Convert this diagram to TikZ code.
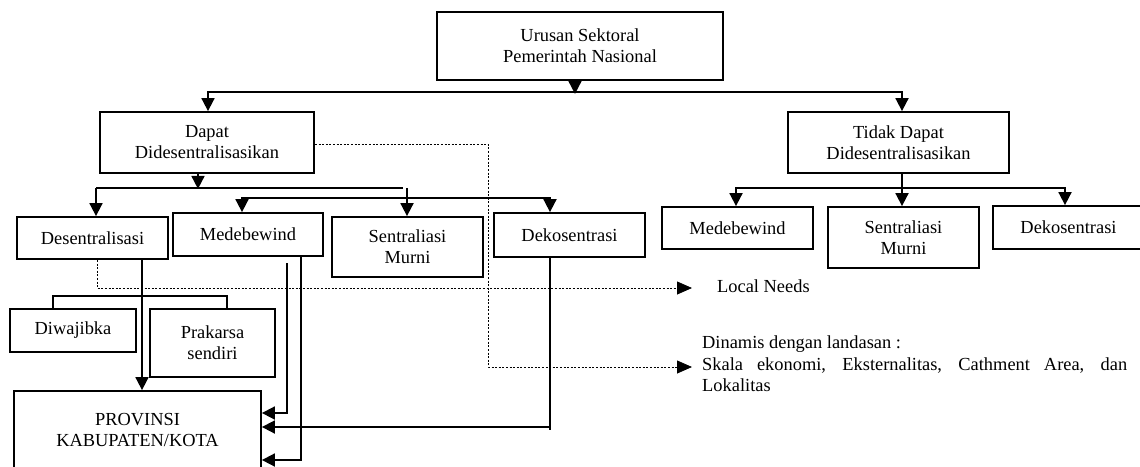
\documentclass[tikz,border=0pt]{standalone}
\usepackage{fontspec}
\setmainfont{Liberation Serif}
\usetikzlibrary{arrows.meta}
\tikzset{
  txt/.style={font=\fontsize{18.4}{21}\selectfont},
  box/.style={draw, line width=1.8pt, inner sep=0pt, align=center, txt},
  ln/.style={line width=1.8pt, line join=miter},
  arr/.style={ln, -{Triangle[width=13pt,length=13pt]}},
  arrb/.style={ln, {Triangle[width=13pt,length=13pt]}-{Triangle[width=13pt,length=13pt]}},
  dotl/.style={line width=0.8pt, dash pattern=on 2pt off 1.6pt, -{Triangle[width=13pt,length=15pt,sep=0pt]}},
  lbl/.style={txt, inner sep=0pt}
}
\begin{document}
\begin{tikzpicture}[x=1pt,y=-1pt]
\useasboundingbox (0,0) rectangle (1140,466);
\clip (0,0) rectangle (1140,466);
% boxes
\node[box, minimum width=286pt, minimum height=68pt] (top) at (580,46) {Urusan Sektoral\\Pemerintah Nasional};
\node[box, minimum width=214pt, minimum height=61pt] (dapat) at (207,142.5) {Dapat\\Didesentralisasikan};
\node[box, minimum width=221pt, minimum height=61pt] (tidak) at (898.5,142.5) {Tidak Dapat\\Didesentralisasikan};
\node[box, minimum width=151pt, minimum height=42pt] (desent) at (92.5,238) {Desentralisasi};
\node[box, minimum width=150pt, minimum height=43pt] (medeL) at (248,234.5) {Medebewind};
\node[box, minimum width=151pt, minimum height=60pt] (sentL) at (407.5,247) {Sentraliasi\\Murni};
\node[box, minimum width=151pt, minimum height=44pt] (dekoL) at (569.5,235) {Dekosentrasi};
\node[box, minimum width=151pt, minimum height=42pt] (medeR) at (737.5,228) {Medebewind};
\node[box, minimum width=151pt, minimum height=61pt] (sentR) at (903.5,237.5) {Sentraliasi\\Murni};
\node[box, minimum width=151pt, minimum height=43pt] (dekoR) at (1068.5,227.5) {Dekosentrasi};
\node[box, minimum width=126pt, minimum height=43pt] (diwa) at (73,330.5) {Diwajibka};
\node[box, minimum width=125pt, minimum height=68pt] (prak) at (212.5,343) {Prakarsa\\sendiri};
\node[box, minimum width=247pt, minimum height=78pt] (prov) at (137.5,430) {PROVINSI\\KABUPATEN/KOTA};
% labels
\node[lbl, anchor=base west] (lneeds) at (717,292) {Local Needs};
\node[lbl, anchor=base west] (dyn1) at (702,348) {Dinamis dengan landasan :};
\node[lbl, anchor=base west] (dyn2) at (702,370) {\makebox[425pt][s]{Skala ekonomi, Eksternalitas, Cathment Area, dan}};
\node[lbl, anchor=base west] (dyn3) at (702,391) {Lokalitas};
% coordinates
\coordinate (lnArr) at (692,288);
\coordinate (dynArr) at (692,367);
% top level
\draw[arr] ([xshift=-5pt]top.south) -- ++(0,13);
\draw[arrb] (dapat.north -| 208,0) -- (208,92) -- (902,92) -- (tidak.north -| 902,0);
% Dapat children
\draw[arr] ([xshift=-9pt]dapat.south) -- ++(0,15);
\draw[ln] (403,188) -- (96,188);
\draw[arr] (96,188) -- (desent.north -| 96,0);
\draw[arr] (407,188) -- (sentL.north -| 407,0);
\draw[arrb] (medeL.north -| 242,0) -- (242,198) -- (550,198) -- (dekoL.north -| 550,0);
% Tidak children
\draw[arr] (tidak.south -| 902,0) -- (sentR.north -| 902,0);
\draw[arrb] (medeR.north -| 736,0) -- (736,188) -- (1065,188) -- (dekoR.north -| 1065,0);
% Desentralisasi
\draw[arr] (desent.south -| 142,0) -- (prov.north -| 142,0);
\draw[ln] (diwa.north -| 53,0) -- (53,296) -- (227,296) -- (prak.north -| 227,0);
% Medebewind to provinsi
\draw[arr] (287,263) -- (287,413) -- (prov.east |- 0,413);
\draw[arr] (medeL.south -| 301,0) -- (301,460) -- (prov.east |- 0,460);
% Dekosentrasi to provinsi
\draw[ln] (dekoL.south -| 550,0) -- (550,430);
\draw[arr] (550,427) -- (prov.east |- 0,427);
% dotted
\draw[dotl] (desent.south -| 97,0) -- (97,288) -- (lnArr);
\draw[dotl] (dapat.east |- 0,144) -- (488,144) -- (488,367) -- (dynArr);
\end{tikzpicture}
\end{document}
